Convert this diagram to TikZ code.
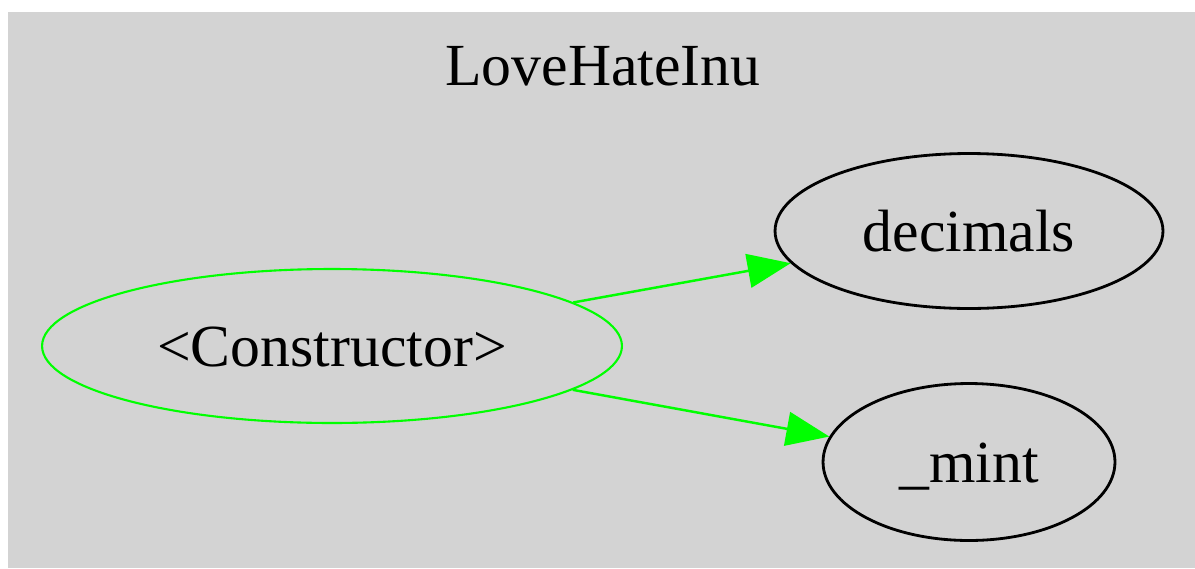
\documentclass[tikz,border=0pt]{standalone}
\usepackage{fontspec}
\setmainfont{Liberation Serif}
\usetikzlibrary{shapes.geometric, arrows.meta}
\definecolor{clusterbg}{HTML}{D3D3D3}

\begin{document}
\begin{tikzpicture}[x=0.02cm, y=-0.02cm,
  func/.style={ellipse, draw=black, line width=1.6pt, inner sep=0pt,
    text height=23pt, text depth=0pt, font=\fontsize{34}{40}\selectfont},
  calls/.style={draw=green, line width=1.4pt,
    -{Triangle[length=0.86cm, width=0.68cm, fill=green]}}]
  \useasboundingbox (0,0) rectangle (1195,568);
  % cluster box
  \fill[clusterbg] (8,12) rectangle (1195,568);
  \node[anchor=base, font=\fontsize{34}{40}\selectfont] (title) at (603,85) {LoveHateInu};
  % functions of the contract
  \node[func, draw=green, line width=1.2pt, minimum width=11.6cm, minimum height=3.08cm]
    (ctor) at (332,346) {<Constructor>};
  \node[func, minimum width=7.76cm, minimum height=3.1cm] (decimals) at (969,231) {decimals};
  \node[func, minimum width=5.84cm, minimum height=3.14cm] (mint) at (969,462) {\_mint};
  % calls
  \draw[calls] (ctor) -- (decimals);
  \draw[calls] (ctor) -- (mint);
\end{tikzpicture}
\end{document}
